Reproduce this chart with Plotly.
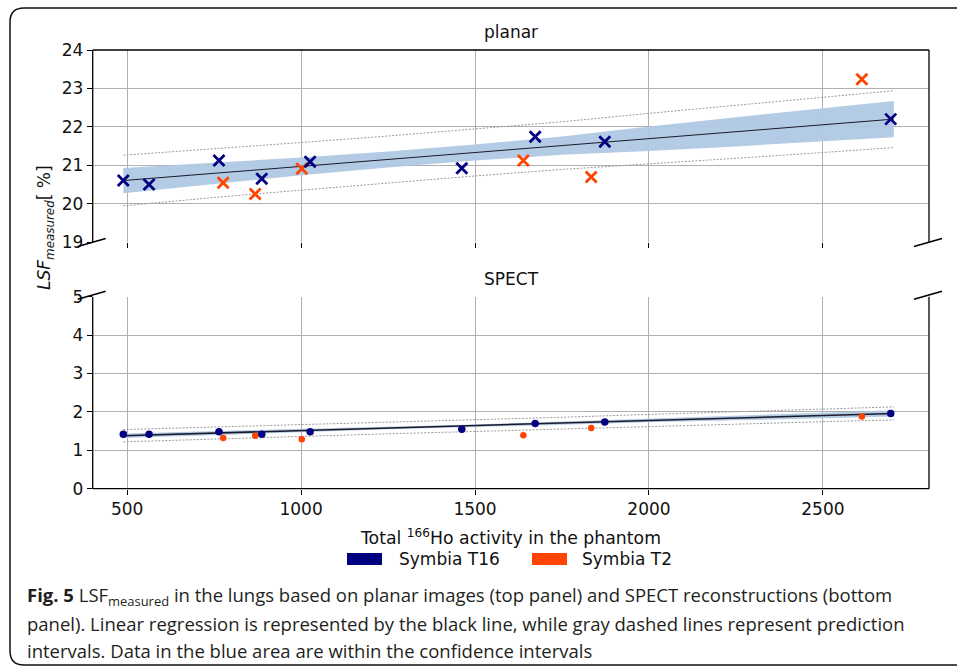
import plotly.graph_objects as go

# ---------------- data ----------------
blue_x = [489, 563, 764, 887, 1026, 1462, 1673, 1873, 2695]
planar_blue = [20.60, 20.50, 21.12, 20.65, 21.09, 20.92, 21.74, 21.61, 22.20]
spect_blue = [1.42, 1.42, 1.48, 1.42, 1.48, 1.55, 1.70, 1.74, 1.96]

orange_x = [776, 868, 1002, 1639, 1834, 2612]
planar_orange = [20.54, 20.25, 20.91, 21.12, 20.69, 23.24]
spect_orange = [1.32, 1.38, 1.29, 1.39, 1.58, 1.88]

fit_x = [489, 750, 1000, 1250, 1500, 1750, 2000, 2250, 2500, 2704]
planar_fit = [20.60, 20.79, 20.97, 21.15, 21.33, 21.51, 21.69, 21.87, 22.05, 22.20]
planar_ci_lo = [20.27, 20.52, 20.74, 20.94, 21.12, 21.27, 21.37, 21.49, 21.62, 21.73]
planar_ci_hi = [20.93, 21.06, 21.20, 21.36, 21.54, 21.75, 22.01, 22.25, 22.48, 22.67]
planar_pi_lo = [19.94, 20.16, 20.35, 20.54, 20.72, 20.89, 21.03, 21.18, 21.33, 21.46]
planar_pi_hi = [21.26, 21.42, 21.59, 21.76, 21.94, 22.13, 22.35, 22.56, 22.77, 22.94]

spect_fit = [1.38, 1.45, 1.51, 1.58, 1.64, 1.71, 1.78, 1.84, 1.91, 1.96]
spect_ci_lo = [1.32, 1.40, 1.47, 1.545, 1.605, 1.67, 1.73, 1.78, 1.84, 1.88]
spect_ci_hi = [1.44, 1.50, 1.55, 1.615, 1.675, 1.75, 1.83, 1.90, 1.98, 2.04]
spect_pi_lo = [1.22, 1.295, 1.36, 1.43, 1.49, 1.56, 1.625, 1.68, 1.745, 1.79]
spect_pi_hi = [1.54, 1.605, 1.66, 1.73, 1.79, 1.86, 1.935, 2.00, 2.075, 2.13]

x_ticks = [500, 1000, 1500, 2000, 2500]
planar_yticks = [19, 20, 21, 22, 23, 24]
spect_yticks = [0, 1, 2, 3, 4, 5]
series_names = ["Symbia T16", "Symbia T2"]

# ---------------- styles ----------------
W, H = 957, 668
NAVY = "#000080"
ORANGE = "#ff4500"
BAND = "rgba(176,200,228,0.95)"
GRIDC = "#b0b0b0"
AXF = "DejaVu Sans"
FS = 17


def px(x):
    return x / W


def py(y):
    return 1 - y / H


L, R = 92.7, 929.0
TOP1, BOT1 = 50.0, 242.0
TOP2, BOT2 = 296.7, 488.7

fig = go.Figure()


def add_panel(xa, ya, fx, fit, cilo, cihi, pilo, pihi, bx, by, ox, oy, sym, bsize, osize, lw, fitw):
    fig.add_trace(go.Scatter(x=fx, y=cilo, mode="lines", line=dict(width=0), xaxis=xa, yaxis=ya,
                             showlegend=False, hoverinfo="skip"))
    fig.add_trace(go.Scatter(x=fx, y=cihi, mode="lines", line=dict(width=0), fill="tonexty",
                             fillcolor=BAND, xaxis=xa, yaxis=ya, showlegend=False, hoverinfo="skip"))
    for arr in (pilo, pihi):
        fig.add_trace(go.Scatter(x=fx, y=arr, mode="lines", line=dict(color="#9a9a9a", width=1, dash="2px,1.5px"),
                                 xaxis=xa, yaxis=ya, showlegend=False, hoverinfo="skip"))
    fig.add_trace(go.Scatter(x=fx, y=fit, mode="lines", line=dict(color="#1a1a2a", width=fitw),
                             xaxis=xa, yaxis=ya, showlegend=False))
    fig.add_trace(go.Scatter(x=ox, y=oy, mode="markers", name=series_names[1], xaxis=xa, yaxis=ya,
                             marker=dict(symbol=sym, size=osize, color=ORANGE, line=dict(color=ORANGE, width=lw)),
                             showlegend=False))
    fig.add_trace(go.Scatter(x=bx, y=by, mode="markers", name=series_names[0], xaxis=xa, yaxis=ya,
                             marker=dict(symbol=sym, size=bsize, color=NAVY, line=dict(color=NAVY, width=lw)),
                             showlegend=False))


add_panel("x", "y", fit_x, planar_fit, planar_ci_lo, planar_ci_hi, planar_pi_lo, planar_pi_hi,
          blue_x, planar_blue, orange_x, planar_orange, "x-thin", 11, 11, 2.8, 1)
add_panel("x2", "y2", fit_x, spect_fit, spect_ci_lo, spect_ci_hi, spect_pi_lo, spect_pi_hi,
          blue_x, spect_blue, orange_x, spect_orange, "circle", 7.5, 6.5, 0, 1.5)

xcommon = dict(range=[401, 2805], tickvals=x_ticks, showgrid=True, gridcolor=GRIDC, gridwidth=1,
               zeroline=False, showline=False, ticks="outside", ticklen=5, tickwidth=1, tickcolor="#000",
               tickfont=dict(family=AXF, size=FS, color="#111"), domain=[px(L), px(R)], automargin=False)
ycommon = dict(showgrid=True, gridcolor=GRIDC, gridwidth=1, zeroline=False, showline=False,
               ticks="outside", ticklen=5, tickwidth=1, tickcolor="#000", automargin=False,
               tickfont=dict(family=AXF, size=FS, color="#111"))

fig.update_layout(
    width=W, height=H, margin=dict(l=0, r=0, t=0, b=0, pad=0, autoexpand=False),
    paper_bgcolor="white", plot_bgcolor="white", showlegend=False,
    xaxis=dict(xcommon, anchor="y", showticklabels=False),
    yaxis=dict(ycommon, range=[19, 24], tickvals=planar_yticks, domain=[py(BOT1), py(TOP1)], anchor="x"),
    xaxis2=dict(xcommon, anchor="y2", showticklabels=True),
    yaxis2=dict(ycommon, range=[0, 5], tickvals=spect_yticks, domain=[py(BOT2), py(TOP2)], anchor="x2"),
)

shapes = []


def seg(x0, y0, x1, y1, w=1.3, color="#000"):
    shapes.append(dict(type="line", xref="paper", yref="paper", x0=px(x0), y0=py(y0), x1=px(x1), y1=py(y1),
                       line=dict(color=color, width=w)))


# spines
seg(L, TOP1, R, TOP1)
seg(L, TOP1, L, BOT1)
seg(R, TOP1, R, BOT1)
seg(L, BOT2, R, BOT2)
seg(L, TOP2, L, BOT2)
seg(R, TOP2, R, BOT2)
# broken-axis marks
for yc in (BOT1 + 0.5, TOP2 - 1.5):
    seg(L - 15, yc + 4, L + 13, yc - 4, w=1.6)
    seg(R - 15, yc + 4, R + 13, yc - 4, w=1.6)

# outer rounded frame
r = 14
fx0, fy0, fx1, fy1 = 10, 8, 957, 665
path = (f"M {px(fx0 + r)},{py(fy0)} L {px(fx1)},{py(fy0)} M {px(fx1)},{py(fy1)} L {px(fx0 + r)},{py(fy1)} "
        f"Q {px(fx0)},{py(fy1)} {px(fx0)},{py(fy1 - r)} L {px(fx0)},{py(fy0 + r)} "
        f"Q {px(fx0)},{py(fy0)} {px(fx0 + r)},{py(fy0)}")
shapes.append(dict(type="path", xref="paper", yref="paper", path=path, line=dict(color="#111", width=1.5)))

# legend patches
shapes.append(dict(type="rect", xref="paper", yref="paper", x0=px(347), x1=px(382), y0=py(565), y1=py(553),
                   fillcolor=NAVY, line=dict(width=0)))
shapes.append(dict(type="rect", xref="paper", yref="paper", x0=px(532), x1=px(567), y0=py(565), y1=py(553),
                   fillcolor=ORANGE, line=dict(width=0)))
fig.update_layout(shapes=shapes)

ann = []


def text(x, y, s, size=FS, fam=AXF, xa="center", color="#111", angle=0):
    ann.append(dict(x=px(x), y=py(y), xref="paper", yref="paper", text=s, showarrow=False,
                    xanchor=xa, yanchor="middle", textangle=angle,
                    font=dict(family=fam, size=size, color=color)))


text(511, 32, "planar")
text(511, 279, "SPECT")
text(45, 228, "<i>LSF</i><sub><i>measured</i></sub>[ %]", size=FS, angle=-90)
text(510, 537, "Total <sup>166</sup>Ho activity in the phantom", size=17.3)
text(397, 559, series_names[0], xa="left")
text(580, 559, series_names[1], xa="left")

CF = "Open Sans"
CC = "#231f20"
CS = 18.5
text(25, 596, "<b>Fig. 5</b> LSF<sub>measured</sub> in the lungs based on planar images (top panel) and SPECT reconstructions (bottom",
     size=CS, fam=CF, xa="left", color=CC)
text(25, 623, "panel). Linear regression is represented by the black line, while gray dashed lines represent prediction",
     size=CS, fam=CF, xa="left", color=CC)
text(25, 650, "intervals. Data in the blue area are within the confidence intervals",
     size=CS, fam=CF, xa="left", color=CC)
fig.update_layout(annotations=ann)

fig.write_html("out.html")
